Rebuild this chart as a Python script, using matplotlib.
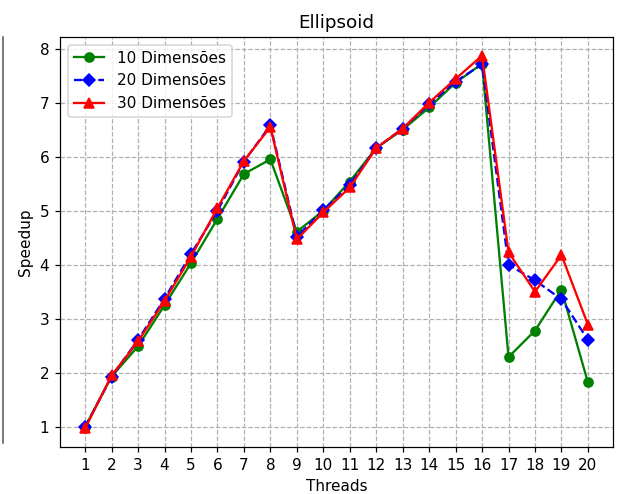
import matplotlib
matplotlib.use("Agg")
import matplotlib.pyplot as plt
from matplotlib.lines import Line2D

threads = list(range(1, 21))
speedup_10 = [1.00, 1.93, 2.49, 3.25, 4.03, 4.85, 5.68, 5.95, 4.61, 5.00,
              5.54, 6.16, 6.50, 6.91, 7.37, 7.72, 2.29, 2.78, 3.54, 1.82]
speedup_20 = [1.00, 1.93, 2.61, 3.37, 4.20, 5.00, 5.91, 6.58, 4.52, 5.01,
              5.48, 6.16, 6.52, 6.97, 7.39, 7.71, 4.00, 3.71, 3.36, 2.61]
speedup_30 = [0.97, 1.95, 2.58, 3.33, 4.15, 5.05, 5.92, 6.55, 4.47, 4.97,
              5.43, 6.16, 6.52, 7.00, 7.44, 7.87, 4.23, 3.50, 4.18, 2.89]
labels = ["10 Dimensões", "20 Dimensões", "30 Dimensões"]

DPI = 110
fig = plt.figure(figsize=(618 / DPI, 494 / DPI), dpi=DPI)
ax = fig.add_axes([0.0971, 0.0951, 0.8949, 0.8300])

ax.plot(threads, speedup_10, color="green", marker="o", linestyle="-", label=labels[0])
ax.plot(threads, speedup_20, color="blue", marker="D", linestyle="--", label=labels[1])
ax.plot(threads, speedup_30, color="red", marker="^", linestyle="-", label=labels[2])

ax.set_xticks(threads)
ax.grid(True, linestyle="--", color="#b0b0b0", linewidth=0.8)
ax.set_title("Ellipsoid")
ax.set_xlabel("Threads")
ax.set_ylabel("Speedup")
ax.legend(loc="upper left")

# edge of the neighbouring panel
fig.add_artist(Line2D([0.005, 0.005], [(494 - 443) / 494, (494 - 37) / 494],
                      transform=fig.transFigure, color="#555555", linewidth=1.0))

fig.savefig("out.png", dpi=DPI)
